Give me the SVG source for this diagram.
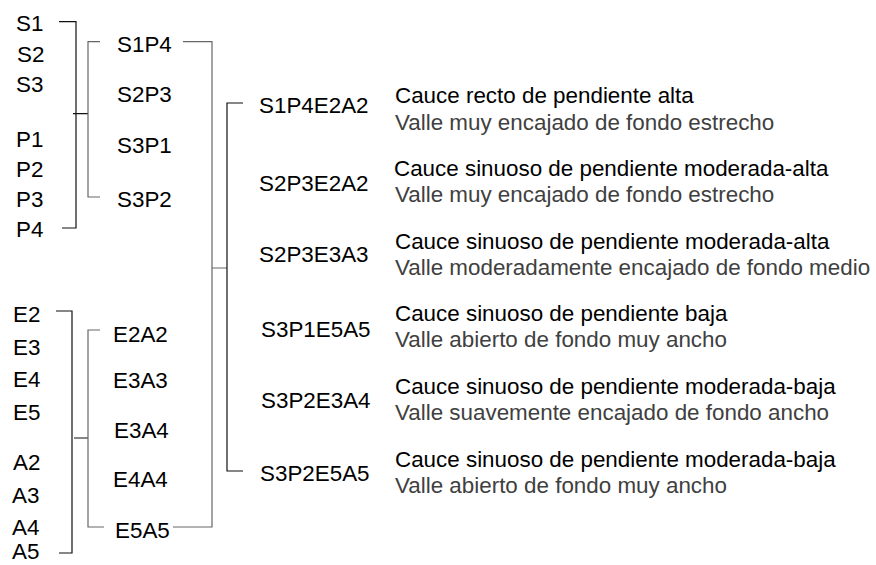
<svg xmlns="http://www.w3.org/2000/svg" width="876" height="565" viewBox="0 0 876 565">
<style>
text{font-family:"Liberation Sans",Arial,Helvetica,sans-serif;font-size:22.4px;fill:#000}
.v{fill:#404040}
.k{fill:none;stroke:#111;stroke-width:1.2}
.g{fill:none;stroke:#666;stroke-width:1.2}
</style>
<rect width="876" height="565" fill="#fff"/>
<g id="connectors">
<path class="k" d="M59 21.7H76V228H62M73 113.7H88"/>
<path class="g" d="M100 41.7H88V197H100"/>
<path class="g" d="M183 41.7H212V527H173M212 268H227"/>
<path class="k" d="M243 103H227V471H243"/>
<path class="k" d="M56 311H72V553H59M74 438H88"/>
<path class="g" d="M100 330H88V527H104"/>
</g>
<g id="n-S1"><text x="16" y="31">S1</text></g>
<g id="n-S2"><text x="17" y="62">S2</text></g>
<g id="n-S3"><text x="16" y="92">S3</text></g>
<g id="n-P1"><text x="16" y="147">P1</text></g>
<g id="n-P2"><text x="16" y="177">P2</text></g>
<g id="n-P3"><text x="16" y="207">P3</text></g>
<g id="n-P4"><text x="16" y="237">P4</text></g>
<g id="n-E2"><text x="13" y="322">E2</text></g>
<g id="n-E3"><text x="13" y="355">E3</text></g>
<g id="n-E4"><text x="13" y="387">E4</text></g>
<g id="n-E5"><text x="13" y="420">E5</text></g>
<g id="n-A2"><text x="13" y="470">A2</text></g>
<g id="n-A3"><text x="12" y="503">A3</text></g>
<g id="n-A4"><text x="12" y="535">A4</text></g>
<g id="n-A5"><text x="12" y="559">A5</text></g>
<g id="n-S1P4"><text x="117" y="52">S1P4</text></g>
<g id="n-S2P3"><text x="117" y="102">S2P3</text></g>
<g id="n-S3P1"><text x="117" y="153">S3P1</text></g>
<g id="n-S3P2"><text x="117" y="207">S3P2</text></g>
<g id="n-E2A2"><text x="113" y="342">E2A2</text></g>
<g id="n-E3A3"><text x="113" y="388">E3A3</text></g>
<g id="n-E3A4"><text x="114" y="438">E3A4</text></g>
<g id="n-E4A4"><text x="113" y="487">E4A4</text></g>
<g id="n-E5A5"><text x="115" y="538">E5A5</text></g>
<g id="n-S1P4E2A2"><text x="259" y="113">S1P4E2A2</text><text x="395" y="103">Cauce recto de pendiente alta</text><text class="v" x="395" y="130">Valle muy encajado de fondo estrecho</text></g>
<g id="n-S2P3E2A2"><text x="259" y="191">S2P3E2A2</text><text x="394" y="176">Cauce sinuoso de pendiente moderada-alta</text><text class="v" x="395" y="202">Valle muy encajado de fondo estrecho</text></g>
<g id="n-S2P3E3A3"><text x="259" y="262">S2P3E3A3</text><text x="395" y="249">Cauce sinuoso de pendiente moderada-alta</text><text class="v" x="395" y="275">Valle moderadamente encajado de fondo medio</text></g>
<g id="n-S3P1E5A5"><text x="261" y="337">S3P1E5A5</text><text x="395" y="321">Cauce sinuoso de pendiente baja</text><text class="v" x="395" y="347">Valle abierto de fondo muy ancho</text></g>
<g id="n-S3P2E3A4"><text x="261" y="408">S3P2E3A4</text><text x="395" y="394">Cauce sinuoso de pendiente moderada-baja</text><text class="v" x="395" y="420">Valle suavemente encajado de fondo ancho</text></g>
<g id="n-S3P2E5A5"><text x="260" y="481">S3P2E5A5</text><text x="395" y="467">Cauce sinuoso de pendiente moderada-baja</text><text class="v" x="395" y="493">Valle abierto de fondo muy ancho</text></g>
</svg>
